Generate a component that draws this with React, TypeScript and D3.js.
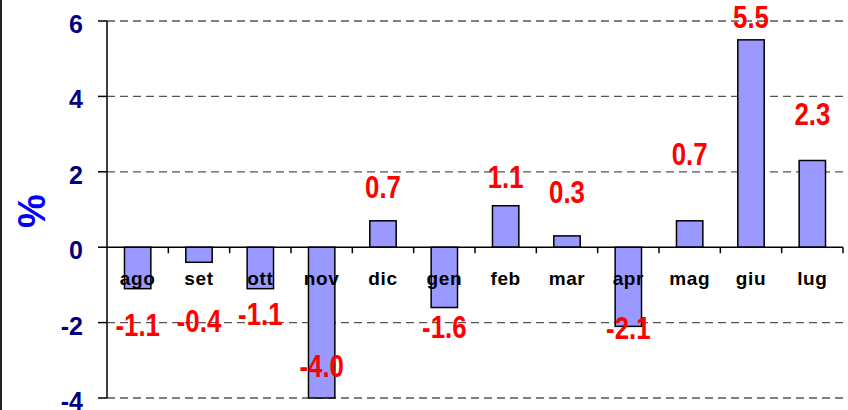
import React, { useEffect, useRef } from "react";
import * as d3 from "d3";

const months = ["ago", "set", "ott", "nov", "dic", "gen", "feb", "mar", "apr", "mag", "giu", "lug"];
const values = [-1.1, -0.4, -1.1, -4.0, 0.7, -1.6, 1.1, 0.3, -2.1, 0.7, 5.5, 2.3];
const yTicks = [-4, -2, 0, 2, 4, 6];
// where each value label sits, relative to the end of its bar (px)
const labelNudge = [47, 70, 36, -21, -23, 30, -18, -33, 13, -56, -12, -35];

const W = 848;
const H = 410;
const left = 107;
const right = 843;
const top = 21;
const bottom = 398;

export default function App() {
  const ref = useRef<SVGSVGElement>(null);

  useEffect(() => {
    const svg = d3.select(ref.current);
    svg.selectAll("*").remove();

    const x = d3.scaleBand().domain(months).range([left, right]);
    const y = d3.scaleLinear().domain([-4, 6]).range([bottom, top]);
    const bw = x.bandwidth() * 0.43;

    svg.append("rect").attr("width", W).attr("height", H).attr("fill", "white");
    svg.append("line").attr("x1", 1).attr("x2", 1).attr("y1", 0).attr("y2", H)
      .attr("stroke", "#222").attr("stroke-width", 2);

    // gridlines
    svg.selectAll(".grid").data(yTicks.filter(d => d !== 0)).join("line")
      .attr("class", "grid")
      .attr("x1", left).attr("x2", right)
      .attr("y1", d => y(d)).attr("y2", d => y(d))
      .attr("stroke", "#555").attr("stroke-width", 1.3)
      .attr("stroke-dasharray", "8,5");

    // bars
    svg.selectAll(".bar").data(values).join("rect")
      .attr("class", "bar")
      .attr("x", (d, i) => x(months[i])! + (x.bandwidth() - bw) / 2)
      .attr("y", d => y(Math.max(0, d)))
      .attr("width", bw)
      .attr("height", d => Math.abs(y(d) - y(0)))
      .attr("fill", "#9999ff")
      .attr("stroke", "#000")
      .attr("stroke-width", 1.5);

    // y axis
    svg.append("line").attr("x1", left).attr("x2", left).attr("y1", top).attr("y2", bottom)
      .attr("stroke", "#000").attr("stroke-width", 1.5);
    svg.selectAll(".ytick").data(yTicks).join("line")
      .attr("class", "ytick")
      .attr("x1", left - 9).attr("x2", left)
      .attr("y1", d => y(d)).attr("y2", d => y(d))
      .attr("stroke", "#000").attr("stroke-width", 1.5);
    svg.selectAll(".ylab").data(yTicks).join("text")
      .attr("class", "ylab")
      .attr("x", 83).attr("y", d => y(d) + 12)
      .attr("text-anchor", "end")
      .attr("font-family", "Liberation Sans, Arial, sans-serif")
      .attr("font-weight", "bold")
      .attr("font-size", 25)
      .attr("fill", "#000080")
      .text(d => d);

    // x axis at zero
    svg.append("line").attr("x1", left).attr("x2", right).attr("y1", y(0)).attr("y2", y(0))
      .attr("stroke", "#000").attr("stroke-width", 1.5);
    svg.selectAll(".xtick").data(months).join("line")
      .attr("class", "xtick")
      .attr("x1", d => x(d)! + x.bandwidth())
      .attr("x2", d => x(d)! + x.bandwidth())
      .attr("y1", y(0)).attr("y2", y(0) + 6)
      .attr("stroke", "#000").attr("stroke-width", 1.5);

    svg.selectAll(".xlab").data(months).join("text")
      .attr("class", "xlab")
      .attr("x", d => x(d)! + x.bandwidth() / 2)
      .attr("y", 285)
      .attr("text-anchor", "middle")
      .attr("font-family", "Liberation Sans, Arial, sans-serif")
      .attr("font-weight", "bold")
      .attr("font-size", 19)
      .attr("letter-spacing", 0.6)
      .attr("fill", "#000")
      .text(d => d);

    // value labels
    svg.selectAll(".vlab").data(values).join("text")
      .attr("class", "vlab")
      .attr("transform", (d, i) =>
        `translate(${x(months[i])! + x.bandwidth() / 2},${y(d) + labelNudge[i]}) scale(0.86,1.05)`)
      .attr("text-anchor", "middle")
      .attr("font-family", "Liberation Sans, Arial, sans-serif")
      .attr("font-weight", "bold")
      .attr("font-size", 30)
      .attr("fill", "#ff0000")
      .text(d => d.toFixed(1));

    svg.append("text")
      .attr("transform", `translate(45,211) rotate(-90)`)
      .attr("text-anchor", "middle")
      .attr("font-family", "Liberation Sans, Arial, sans-serif")
      .attr("font-weight", "bold")
      .attr("font-size", 38)
      .attr("fill", "#0000ff")
      .text("%");
  }, []);

  return (
    <svg ref={ref} width={W} height={H}
      style={{ position: "absolute", left: 0, top: 0, display: "block" }} />
  );
}
